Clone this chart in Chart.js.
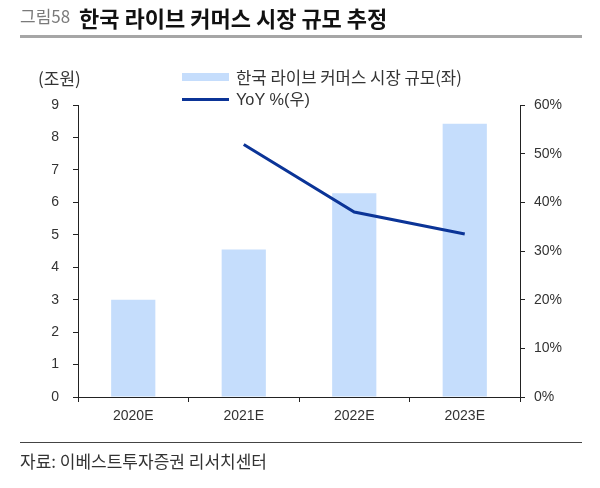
<!DOCTYPE html>
<html>
<head>
<meta charset="utf-8">
<script src="https://cdn.jsdelivr.net/npm/chart.js@4"></script>
<style>
    body { margin: 0; background: #fff; }
    #wrap { position: relative; width: 600px; height: 488px; overflow: hidden; }
    #chart { position: absolute; left: 0; top: 0; }
    .txt { position: absolute; white-space: nowrap; font-family: "Noto Sans CJK KR", sans-serif; color: #333; }
</style>
</head>
<body>
<div id="wrap">
    <canvas id="chart" width="600" height="488"></canvas>

    <div class="txt" style="left:20px; top:3px; line-height:26px; font-size:17px; color:#7a7a7a;">그림58</div>
    <div class="txt" style="left:79px; top:1px; line-height:32px; font-size:22px; font-weight:bold; color:#111;">한국 라이브 커머스 시장 규모 추정</div>
    <div style="position:absolute; left:20px; top:35px; width:562px; height:3px; background:#a6a6a6;"></div>

    <div class="txt" style="left:38px; top:65px; line-height:26px; font-size:17px;">(조원)</div>

    <div style="position:absolute; left:182px; top:73px; width:47px; height:8px; background:rgb(197,221,252);"></div>
    <div class="txt" style="left:236px; top:64px; line-height:26px; font-size:16.7px;">한국 라이브 커머스 시장 규모(좌)</div>
    <div style="position:absolute; left:182px; top:98px; width:47px; height:3px; background:#0b3497;"></div>
    <div class="txt" style="left:236px; top:86px; line-height:26px; font-size:16.3px; font-family:'Liberation Sans','Noto Sans CJK KR',sans-serif;">YoY %(우)</div>

    <div style="position:absolute; left:20px; top:442px; width:562px; height:1px; background:#444;"></div>
    <div class="txt" style="left:20px; top:448px; line-height:26px; font-size:17px;">자료: 이베스트투자증권 리서치센터</div>
</div>

<script>
// 데이터
var years = ['2020E', '2021E', '2022E', '2023E'];
var marketSize = [3.0, 4.55, 6.28, 8.42];      // 조원 (좌)
var yoyGrowth = [null, 51.9, 38.0, 33.5];      // % (우)

var axisColor = '#222';
var tickFont = { family: 'Liberation Sans', size: 14 };

var ctx = document.getElementById('chart').getContext('2d');
var chart = new Chart(ctx, {
    type: 'bar',
    data: {
        labels: years,
        datasets: [{
            type: 'bar',
            label: '한국 라이브 커머스 시장 규모(좌)',
            data: marketSize,
            backgroundColor: 'rgb(197,221,252)',
            borderWidth: 0,
            categoryPercentage: 1.0,
            barPercentage: 0.4,
            yAxisID: 'y',
            order: 2
        }, {
            type: 'line',
            label: 'YoY %(우)',
            data: yoyGrowth,
            borderColor: '#0b3497',
            borderWidth: 3,
            pointRadius: 0,
            tension: 0,
            fill: false,
            yAxisID: 'y1',
            order: 1
        }]
    },
    options: {
        responsive: false,
        animation: false,
        layout: { padding: { top: 105, left: 0, right: 0, bottom: 0 } },
        plugins: {
            legend: { display: false },
            tooltip: { enabled: false }
        },
        scales: {
            x: {
                position: 'bottom',
                afterFit: function (s) { s.height = 91; },
                grid: {
                    display: true,
                    drawOnChartArea: false,
                    drawTicks: true,
                    tickLength: 5,
                    color: axisColor,
                    offset: true
                },
                border: { display: true, color: axisColor, width: 1 },
                ticks: { padding: 6, color: '#333', font: tickFont, maxRotation: 0 }
            },
            y: {
                position: 'left',
                min: 0,
                max: 9,
                afterFit: function (s) { s.width = 78; },
                grid: {
                    display: true,
                    drawOnChartArea: false,
                    drawTicks: true,
                    tickLength: 5,
                    color: axisColor
                },
                border: { display: true, color: axisColor, width: 1 },
                ticks: { stepSize: 1, padding: 14, color: '#333', font: tickFont }
            },
            y1: {
                position: 'right',
                min: 0,
                max: 60,
                afterFit: function (s) { s.width = 80; },
                grid: {
                    display: true,
                    drawOnChartArea: false,
                    drawTicks: true,
                    tickLength: 5,
                    color: axisColor
                },
                border: { display: true, color: axisColor, width: 1 },
                ticks: {
                    stepSize: 10,
                    padding: 9,
                    color: '#333',
                    font: tickFont,
                    callback: function (v) { return v + '%'; }
                }
            }
        }
    }
});
</script>
</body>
</html>
